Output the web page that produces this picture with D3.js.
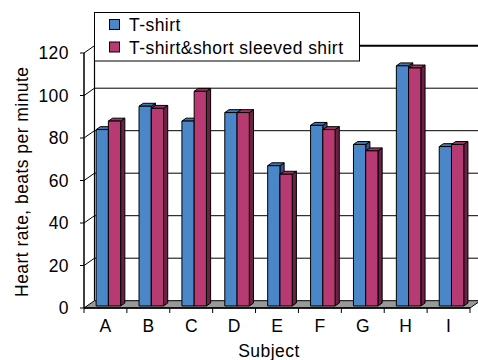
<!DOCTYPE html>
<html>
<head>
<meta charset="utf-8">
<script src="https://cdn.jsdelivr.net/npm/d3@7"></script>
<style>
  html, body { margin: 0; padding: 0; background: #fff; }
  svg { display: block; }
  text { font-family: "Liberation Sans", Arial, sans-serif; fill: #000; }
</style>
</head>
<body>
<svg id="chart" width="478" height="360"></svg>
<script>
// Heart rate per subject for the two clothing conditions
const subjects = ["A", "B", "C", "D", "E", "F", "G", "H", "I"];
const seriesNames = ["T-shirt", "T-shirt&short sleeved shirt"];
const tshirt = [83, 94, 87, 91, 66, 85, 76, 113, 75];
const tshirtShortSleeve = [87, 93, 101, 91, 62, 83, 73, 112, 76];
const yTicks = [0, 20, 40, 60, 80, 100, 120];

const seriesValues = [tshirt, tshirtShortSleeve];
const palette = [
  { front: "#4a86c8", top: "#4275b4", side: "#3b4f88" },
  { front: "#b83a72", top: "#a03264", side: "#6a2142" }
];

const svg = d3.select("#chart");
const fontSize = "17.5px";
const spacing = "0.45px";

// Front plane of the 3-D box
const x0 = 84, x1 = 470;
const y = d3.scaleLinear().domain([0, 120]).range([308, 53]);
const x = d3.scaleBand().domain(subjects).range([x0, x1]);
// Oblique depth vector (full depth of the box)
const depth = { dx: 10.5, dy: -7.3 };
const off = d => [depth.dx * d, depth.dy * d];

// Bars: two per category, gap of 1.5 bar widths
const barW = x.bandwidth() / 3.5;
const inner = d3.scaleBand().domain(d3.range(seriesNames.length))
  .range([0, barW * seriesNames.length]);
const barD0 = 0.28, barD1 = 0.68;

const pathOf = pts => "M" + pts.map(p => p.join(",")).join("L") + "Z";

// Back wall gridlines
const [bdx, bdy] = off(1);
const grid = svg.append("g");
yTicks.slice(1).forEach(t => {
  grid.append("line")
    .attr("x1", x0 + bdx).attr("x2", 480)
    .attr("y1", y(t) + bdy).attr("y2", y(t) + bdy)
    .attr("stroke", "#000").attr("stroke-width", t === 120 ? 2 : 1);
  // side-wall grid stub from the axis to the back wall
  grid.append("line")
    .attr("x1", x0).attr("y1", y(t))
    .attr("x2", x0 + bdx).attr("y2", y(t) + bdy)
    .attr("stroke", "#000").attr("stroke-width", 1);
});
// Back wall left edge
svg.append("line")
  .attr("x1", x0 + bdx).attr("x2", x0 + bdx)
  .attr("y1", y(0) + bdy).attr("y2", y(120) + bdy)
  .attr("stroke", "#000").attr("stroke-width", 1.2);

// Floor
svg.append("path")
  .attr("d", pathOf([[x0, y(0)], [x1, y(0)], [x1 + bdx, y(0) + bdy], [x0 + bdx, y(0) + bdy]]))
  .attr("fill", "#999999").attr("stroke", "#000").attr("stroke-width", 1);

// Bars
const bars = svg.append("g");
subjects.forEach((s, i) => {
  seriesValues.forEach((vals, k) => {
    const v = vals[i];
    const c = palette[k];
    const [fx, fy] = off(barD0);
    const [bx, by] = off(barD1);
    const left = x(s) + (x.bandwidth() - barW * seriesNames.length) / 2 + inner(k) + fx;
    const right = left + barW;
    const top = y(v) + fy;
    const base = y(0) + fy;
    const ddx = bx - fx, ddy = by - fy;
    const g = bars.append("g").attr("stroke", "#000").attr("stroke-width", 1)
      .attr("stroke-linejoin", "round");
    // right side face
    g.append("path").attr("fill", c.side)
      .attr("d", pathOf([[right, base], [right, top], [right + ddx, top + ddy], [right + ddx, base + ddy]]));
    // top face
    g.append("path").attr("fill", c.top)
      .attr("d", pathOf([[left, top], [right, top], [right + ddx, top + ddy], [left + ddx, top + ddy]]));
    // front face
    g.append("path").attr("fill", c.front)
      .attr("d", pathOf([[left, base], [right, base], [right, top], [left, top]]));
  });
});

// Front value axis
svg.append("line")
  .attr("x1", x0).attr("x2", x0).attr("y1", y(0)).attr("y2", y(120))
  .attr("stroke", "#000").attr("stroke-width", 1.5);
const yAxis = svg.append("g");
yTicks.forEach(t => {
  yAxis.append("line").attr("x1", x0 - 4).attr("x2", x0)
    .attr("y1", y(t)).attr("y2", y(t)).attr("stroke", "#000");
  yAxis.append("text").attr("x", 69).attr("y", y(t)).attr("dy", "0.36em")
    .attr("text-anchor", "end").style("font-size", fontSize)
    .style("letter-spacing", spacing).text(t);
});

// Category axis
svg.append("line").attr("x1", x0).attr("x2", x1)
  .attr("y1", y(0)).attr("y2", y(0)).attr("stroke", "#000").attr("stroke-width", 1.5);
const xAxis = svg.append("g");
subjects.concat([null]).forEach((s, i) => {
  const xx = s === null ? x1 : x(s);
  xAxis.append("line").attr("x1", xx).attr("x2", xx)
    .attr("y1", y(0)).attr("y2", y(0) + 5).attr("stroke", "#000");
});
subjects.forEach(s => {
  xAxis.append("text").attr("x", x(s) + x.bandwidth() / 2).attr("y", 332)
    .attr("text-anchor", "middle").style("font-size", fontSize).text(s);
});

// Axis titles
svg.append("text").attr("x", 269).attr("y", 356.5).attr("text-anchor", "middle")
  .style("font-size", fontSize).style("letter-spacing", spacing).text("Subject");
svg.append("text").attr("transform", "translate(27.5,181.7) rotate(-90)")
  .attr("text-anchor", "middle").style("font-size", fontSize)
  .style("letter-spacing", spacing).text("Heart rate, beats per minute");

// Legend
const legend = svg.append("g");
legend.append("rect").attr("x", 94.5).attr("y", 12.5).attr("width", 265).attr("height", 48.5)
  .attr("fill", "#fff").attr("stroke", "#000").attr("stroke-width", 1);
seriesNames.forEach((name, k) => {
  const ly = 19.5 + k * 22.5;
  legend.append("rect").attr("x", 109.5).attr("y", ly).attr("width", 10).attr("height", 10)
    .attr("fill", palette[k].front).attr("stroke", "#000").attr("stroke-width", 1);
  legend.append("text").attr("x", 129).attr("y", ly + 11.5)
    .style("font-size", fontSize).style("letter-spacing", spacing).text(name);
});
</script>
</body>
</html>
